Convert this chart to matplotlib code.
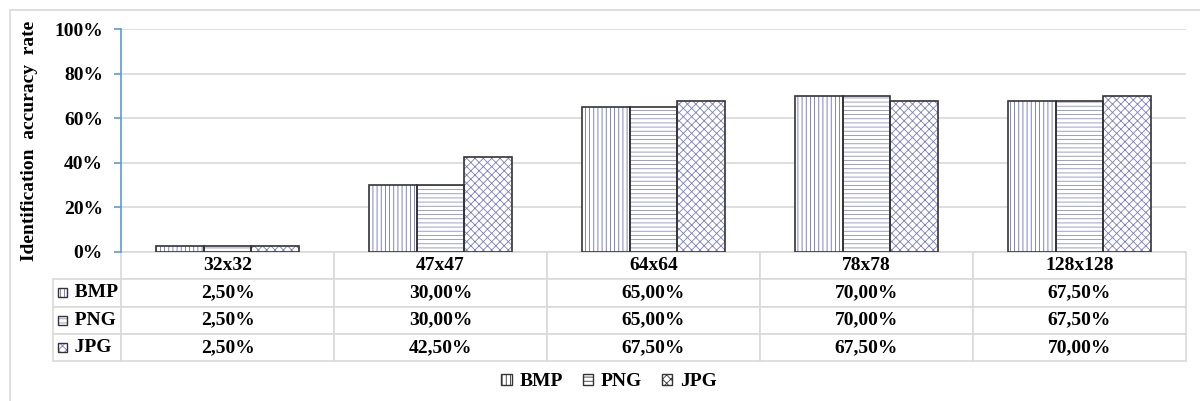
import numpy as np
import matplotlib
matplotlib.use("Agg")
import matplotlib.pyplot as plt
from matplotlib.patches import Patch, Rectangle

# data
sizes = ["32x32", "47x47", "64x64", "78x78", "128x128"]
formats = ["BMP", "PNG", "JPG"]
bmp = [2.5, 30.0, 65.0, 70.0, 67.5]
png = [2.5, 30.0, 65.0, 70.0, 67.5]
jpg = [2.5, 42.5, 67.5, 67.5, 70.0]
series = [bmp, png, jpg]
hatches = ["||||", "----", "xxxx"]

plt.rcParams["font.family"] = ["Liberation Serif", "DejaVu Serif"]
plt.rcParams["font.weight"] = "bold"
plt.rcParams["hatch.linewidth"] = 0.6

hatch_cols = ["#6b6fb8", "#8a8ec8", "#7b7fc0"]
edge_col = "#333333"
fs = 14

fig = plt.figure(figsize=(12, 4.01), dpi=100)
ax = fig.add_axes([121 / 1200, 1 - 252 / 401, 1065 / 1200, 223 / 401])

# outer frame of the chart (cut off at right / bottom)
fig.patches.append(Rectangle((10 / 1200, -0.1), 1.2, 1 - 10 / 401 + 0.1,
                             transform=fig.transFigure, fill=False,
                             edgecolor="#d9d9d9", lw=1.2, zorder=0))

x = np.arange(len(sizes))
w = 0.224
for i, (vals, h) in enumerate(zip(series, hatches)):
    pos = x + (i - 1) * w
    ax.bar(pos, vals, w, color="white", hatch=h, edgecolor=hatch_cols[i], lw=0, zorder=2)
    ax.bar(pos, vals, w, fill=False, edgecolor=edge_col, lw=1.2, zorder=3)

ax.set_xlim(-0.5, len(sizes) - 0.5)
ax.set_ylim(0, 100)
ax.set_yticks(np.arange(0, 101, 20))
ax.set_yticklabels([f"{v}%" for v in range(0, 101, 20)], fontsize=fs, fontweight="bold")
ax.set_xticks([])
ax.yaxis.grid(True, color="#d9d9d9", lw=1.2)
ax.set_axisbelow(True)
for s in ["top", "right", "bottom"]:
    ax.spines[s].set_visible(False)
ax.spines["left"].set_color("#5b9bd5")
ax.spines["left"].set_linewidth(1.2)
ax.tick_params(axis="y", colors="#5b9bd5", length=5, width=1.2, pad=8, labelcolor="black")
ax.set_ylabel("Identification  accuracy  rate", fontsize=fs, fontweight="bold", labelpad=12)

# data table under the plot
cell_text = [[""] + sizes]
for f, vals in zip(formats, series):
    cell_text.append(["   " + f] + [f"{v:.2f}%".replace(".", ",") for v in vals])
tab = ax.table(cellText=cell_text, cellLoc="center",
               bbox=[-68 / 1065, -109 / 223, 1133 / 1065, 109 / 223])
tab.auto_set_font_size(False)
colw = [68] + [213] * 5
for (r, c), cell in tab.get_celld().items():
    cell.set_edgecolor("#d9d9d9")
    cell.set_linewidth(1.2)
    cell.set_width(colw[c] / 1065)
    cell.get_text().set_fontsize(fs)
    cell.get_text().set_fontweight("bold")
    if c == 0:
        cell.get_text().set_horizontalalignment("left")
        cell._loc = "left"
    if r == 0 and c == 0:
        cell.visible_edges = ""

# small legend keys inside the row labels
for i, h in enumerate(hatches):
    yc = -109 / 223 + (109 / 223) * (3 - i - 0.5) / 4
    for hatch, ec, fill in [(h, hatch_cols[i], True), (None, edge_col, False)]:
        ax.add_patch(Rectangle((-63 / 1065, yc - 4.5 / 223), 9 / 1065, 9 / 223,
                               transform=ax.transAxes, clip_on=False,
                               facecolor="white", fill=fill, hatch=hatch,
                               edgecolor=ec, lw=0 if fill else 1.0, zorder=5))

handles = [Patch(facecolor="white", edgecolor=edge_col, hatch=h, lw=1.0) for h in hatches]
leg = fig.legend(handles, formats, loc="center", bbox_to_anchor=(609 / 1200, 1 - 382 / 401),
                 ncol=3, frameon=False, fontsize=fs, handlelength=0.55, handleheight=0.55,
                 handletextpad=0.4, columnspacing=1.0)

fig.savefig("out.png", dpi=100)
